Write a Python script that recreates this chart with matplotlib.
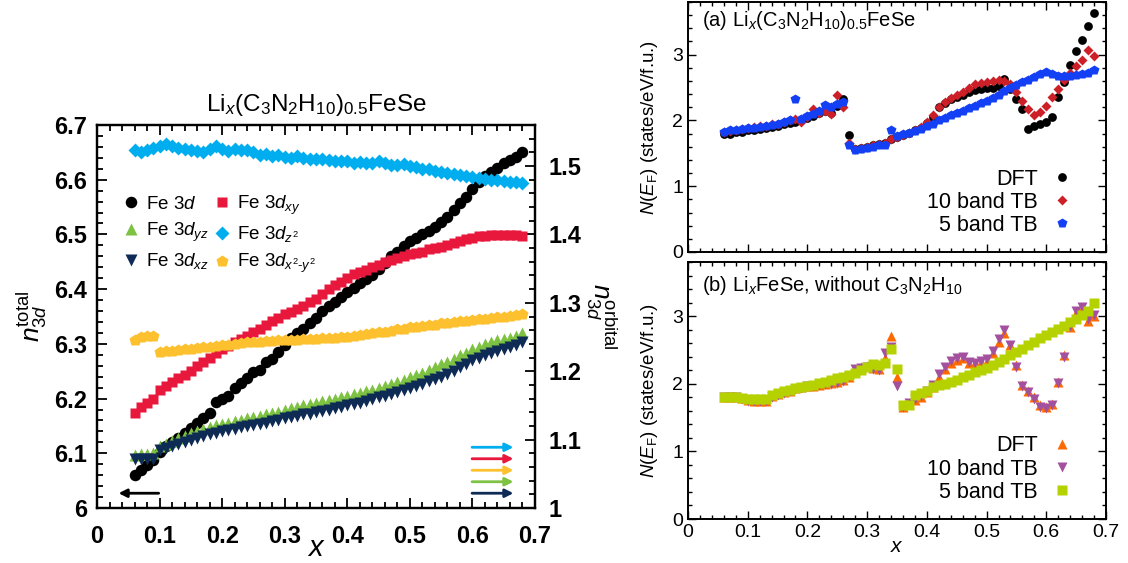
import numpy as np
import matplotlib
matplotlib.use("Agg")
import matplotlib.pyplot as plt
from matplotlib.ticker import MultipleLocator, FuncFormatter

plt.rcParams['font.family'] = ['Liberation Sans', 'DejaVu Sans']
plt.rcParams['mathtext.fontset'] = 'custom'
plt.rcParams['mathtext.rm'] = 'Liberation Sans'
plt.rcParams['mathtext.it'] = 'Liberation Sans:italic'
plt.rcParams['mathtext.bf'] = 'Liberation Sans:bold'

# ---------------- data ----------------
x = [0.06, 0.07, 0.08, 0.09, 0.10, 0.11, 0.12, 0.13, 0.14, 0.15,
     0.16, 0.17, 0.18, 0.19, 0.20, 0.21, 0.22, 0.23, 0.24, 0.25,
     0.26, 0.27, 0.28, 0.29, 0.30, 0.31, 0.32, 0.33, 0.34, 0.35,
     0.36, 0.37, 0.38, 0.39, 0.40, 0.41, 0.42, 0.43, 0.44, 0.45,
     0.46, 0.47, 0.48, 0.49, 0.50, 0.51, 0.52, 0.53, 0.54, 0.55,
     0.56, 0.57, 0.58, 0.59, 0.60, 0.61, 0.62, 0.63, 0.64, 0.65,
     0.66, 0.67, 0.68]

n3d_total = [6.060, 6.069, 6.078, 6.088, 6.102, 6.113, 6.121, 6.128, 6.137, 6.147,
             6.155, 6.164, 6.174, 6.193, 6.199, 6.205, 6.219, 6.228, 6.237, 6.249,
             6.252, 6.267, 6.272, 6.286, 6.298, 6.310, 6.319, 6.327, 6.338, 6.347,
             6.360, 6.370, 6.377, 6.386, 6.395, 6.403, 6.411, 6.418, 6.426, 6.437,
             6.448, 6.460, 6.468, 6.479, 6.488, 6.494, 6.500, 6.506, 6.514, 6.523,
             6.532, 6.545, 6.558, 6.569, 6.583, 6.596, 6.607, 6.614, 6.622, 6.630,
             6.636, 6.641, 6.650]

n_xy = [1.139, 1.147, 1.153, 1.160, 1.172, 1.178, 1.184, 1.190, 1.195, 1.200,
        1.207, 1.213, 1.220, 1.227, 1.232, 1.237, 1.242, 1.247, 1.252, 1.257,
        1.262, 1.267, 1.273, 1.278, 1.283, 1.287, 1.291, 1.296, 1.301, 1.306,
        1.313, 1.320, 1.326, 1.331, 1.337, 1.342, 1.345, 1.348, 1.353, 1.356,
        1.360, 1.363, 1.366, 1.368, 1.371, 1.373, 1.375, 1.378, 1.380, 1.382,
        1.385, 1.387, 1.390, 1.393, 1.395, 1.397, 1.398, 1.399, 1.399, 1.399,
        1.399, 1.399, 1.398]

n_z2 = [1.524, 1.521, 1.524, 1.527, 1.530, 1.532, 1.529, 1.527, 1.525, 1.523,
        1.522, 1.520, 1.525, 1.530, 1.525, 1.522, 1.525, 1.523, 1.524, 1.521,
        1.516, 1.517, 1.515, 1.516, 1.513, 1.512, 1.514, 1.512, 1.511, 1.510,
        1.511, 1.509, 1.507, 1.508, 1.507, 1.505, 1.506, 1.504, 1.504, 1.508,
        1.504, 1.502, 1.501, 1.503, 1.500, 1.498, 1.496, 1.495, 1.493, 1.491,
        1.490, 1.488, 1.487, 1.485, 1.484, 1.483, 1.481, 1.480, 1.479, 1.478,
        1.477, 1.476, 1.475]

n_x2y2 = [1.246, 1.250, 1.251, 1.251, 1.228, 1.229, 1.230, 1.231, 1.232, 1.233,
          1.234, 1.235, 1.236, 1.237, 1.238, 1.239, 1.240, 1.241, 1.242, 1.242,
          1.243, 1.244, 1.244, 1.245, 1.245, 1.246, 1.246, 1.247, 1.247, 1.247,
          1.248, 1.248, 1.249, 1.250, 1.250, 1.252, 1.253, 1.254, 1.256, 1.257,
          1.258, 1.259, 1.261, 1.262, 1.264, 1.265, 1.266, 1.267, 1.268, 1.270,
          1.271, 1.272, 1.273, 1.274, 1.275, 1.276, 1.277, 1.278, 1.279, 1.280,
          1.281, 1.282, 1.283]

n_yz = [1.078, 1.079, 1.079, 1.080, 1.090, 1.094, 1.098, 1.102, 1.106, 1.110,
        1.113, 1.116, 1.119, 1.121, 1.123, 1.125, 1.127, 1.129, 1.131, 1.133,
        1.135, 1.137, 1.139, 1.141, 1.144, 1.146, 1.148, 1.150, 1.152, 1.154,
        1.156, 1.158, 1.160, 1.162, 1.164, 1.166, 1.168, 1.171, 1.173, 1.176,
        1.178, 1.181, 1.184, 1.187, 1.191, 1.195, 1.198, 1.202, 1.206, 1.210,
        1.214, 1.218, 1.223, 1.227, 1.232, 1.236, 1.240, 1.243, 1.245, 1.247,
        1.249, 1.252, 1.256]

n_xz = [1.071, 1.071, 1.072, 1.072, 1.085, 1.088, 1.091, 1.094, 1.097, 1.100,
        1.103, 1.106, 1.108, 1.110, 1.112, 1.114, 1.116, 1.118, 1.120, 1.122,
        1.123, 1.125, 1.127, 1.129, 1.131, 1.133, 1.135, 1.137, 1.138, 1.140,
        1.142, 1.144, 1.146, 1.148, 1.150, 1.152, 1.154, 1.157, 1.159, 1.162,
        1.164, 1.167, 1.170, 1.173, 1.176, 1.179, 1.182, 1.185, 1.188, 1.192,
        1.196, 1.201, 1.206, 1.211, 1.216, 1.220, 1.224, 1.227, 1.230, 1.233,
        1.236, 1.239, 1.242]

# panel (a): Li_x(C3N2H10)0.5FeSe
dft_a = [1.79, 1.80, 1.82, 1.83, 1.85, 1.86, 1.87, 1.89, 1.90, 1.92,
         1.94, 1.96, 1.98, 2.00, 2.03, 2.07, 2.12, 2.15, 2.12, 2.22,
         2.33, 1.78, 1.57, 1.58, 1.60, 1.62, 1.64, 1.66, 1.72, 1.75,
         1.78, 1.81, 1.85, 1.89, 1.96, 2.05, 2.20, 2.27, 2.32, 2.36,
         2.39, 2.43, 2.46, 2.48, 2.49, 2.50, 2.53, 2.63, 2.48, 2.33,
         2.18, 1.87, 1.91, 1.94, 1.98, 2.05, 2.35, 2.59, 2.85, 3.06,
         3.23, 3.43, 3.63]
tb10_a = [1.82, 1.84, 1.86, 1.87, 1.88, 1.90, 1.91, 1.92, 1.94, 1.95,
          1.97, 2.00, 2.02, 1.97, 2.05, 2.18, 2.12, 2.15, 2.10, 2.38,
          2.20, 1.65, 1.56, 1.58, 1.60, 1.62, 1.64, 1.66, 1.72, 1.75,
          1.78, 1.81, 1.85, 1.90, 1.97, 2.08, 2.20, 2.28, 2.34, 2.39,
          2.43, 2.50, 2.55, 2.57, 2.59, 2.60, 2.62, 2.60, 2.55, 2.43,
          2.30, 2.18, 2.08, 2.13, 2.22, 2.35, 2.47, 2.62, 2.72, 2.82,
          2.92, 3.07, 2.98]
tb5_a = [1.83, 1.85, 1.86, 1.87, 1.88, 1.89, 1.90, 1.92, 1.93, 1.95,
         1.97, 2.00, 2.33, 2.02, 2.06, 2.10, 2.15, 2.23, 2.20, 2.25,
         2.28, 1.63, 1.55, 1.57, 1.58, 1.60, 1.62, 1.63, 1.86, 1.76,
         1.79, 1.81, 1.84, 1.87, 1.91, 1.95, 2.00, 2.04, 2.08, 2.12,
         2.15, 2.19, 2.22, 2.26, 2.30, 2.34, 2.39, 2.44, 2.49, 2.54,
         2.58, 2.62, 2.66, 2.70, 2.74, 2.71, 2.68, 2.67, 2.68, 2.69,
         2.70, 2.72, 2.76]

# panel (b): Li_xFeSe without C3N2H10
dft_b = [1.80, 1.80, 1.80, 1.79, 1.76, 1.75, 1.75, 1.75, 1.82, 1.85,
         1.88, 1.90, 1.93, 1.95, 1.96, 1.97, 1.98, 2.00, 2.01, 2.02,
         2.05, 2.10, 2.20, 2.25, 2.26, 2.24, 2.22, 2.38, 2.71, 2.10,
         1.66, 1.70, 1.76, 1.80, 1.88, 1.95, 2.10, 2.22, 2.30, 2.35,
         2.38, 2.31, 2.30, 2.32, 2.33, 2.45, 2.62, 2.75, 2.57, 2.27,
         1.98, 1.90, 1.80, 1.68, 1.66, 1.70, 2.03, 2.42, 2.84, 3.05,
         3.10, 2.93, 3.00]
tb10_b = [1.80, 1.80, 1.80, 1.78, 1.75, 1.74, 1.74, 1.75, 1.81, 1.84,
          1.87, 1.90, 1.92, 1.94, 1.96, 1.97, 1.98, 1.99, 2.00, 2.01,
          2.04, 2.12, 2.22, 2.24, 2.25, 2.22, 2.20, 2.45, 2.55, 1.97,
          1.66, 1.71, 1.77, 1.82, 1.90, 1.98, 2.14, 2.25, 2.33, 2.38,
          2.40, 2.32, 2.31, 2.33, 2.36, 2.48, 2.66, 2.79, 2.58, 2.25,
          1.96, 1.88, 1.78, 1.66, 1.64, 1.69, 2.01, 2.40, 2.86, 3.07,
          3.13, 2.96, 3.02]
tb5_b = [1.80, 1.80, 1.80, 1.79, 1.78, 1.77, 1.77, 1.77, 1.83, 1.86,
         1.89, 1.91, 1.93, 1.95, 1.97, 1.98, 2.01, 2.03, 2.05, 2.08,
         2.10, 2.13, 2.16, 2.20, 2.25, 2.29, 2.28, 2.30, 2.52, 2.22,
         1.68, 1.69, 1.83, 1.86, 1.90, 1.95, 1.98, 2.00, 2.03, 2.06,
         2.10, 2.13, 2.17, 2.20, 2.24, 2.28, 2.32, 2.37, 2.42, 2.47,
         2.52, 2.57, 2.62, 2.67, 2.72, 2.76, 2.81, 2.86, 2.91, 2.96,
         3.01, 3.08, 3.19]

# ---------------- style ----------------
C_BLACK = '#000000'
C_XY = '#e8173c'
C_YZ = '#7dc242'
C_Z2 = '#00aeef'
C_XZ = '#0d2b55'
C_X2Y2 = '#fdc02f'

fig = plt.figure(figsize=(11.28, 5.63), dpi=100)
W, H = 1128.0, 563.0


def rect(l, t, r, b):
    return [l / W, 1 - b / H, (r - l) / W, (b - t) / H]


fmt = FuncFormatter(lambda v, p: '%g' % round(v, 3))

# ---------------- left panel ----------------
ax = fig.add_axes(rect(97, 125, 535, 508))
ax2 = ax.twinx()
ax.set_xlim(0, 0.7)
ax.set_ylim(6.0, 6.7)
ax2.set_ylim(1.0, 1.56)

ms = 8.3
h_tot, = ax.plot(x, n3d_total, 'o', color=C_BLACK, ms=ms, mec='none', label='Fe 3$d$')
h_z2, = ax2.plot(x, n_z2, 'D', color=C_Z2, ms=ms * 0.8, mec='none', label='Fe 3$d_{z^2}$')
h_xy, = ax2.plot(x, n_xy, 's', color=C_XY, ms=ms * 0.95, mec='none', label='Fe 3$d_{xy}$')
h_yz, = ax2.plot(x, n_yz, '^', color=C_YZ, ms=ms, mec='none', label='Fe 3$d_{yz}$')
h_xz, = ax2.plot(x, n_xz, 'v', color=C_XZ, ms=ms, mec='none', label='Fe 3$d_{xz}$')
h_x2, = ax2.plot(x, n_x2y2, 'p', color=C_X2Y2, ms=ms * 1.05, mec='none',
                 label='Fe 3$d_{x^2\\text{-}y^2}$')

for a in (ax, ax2):
    for s in a.spines.values():
        s.set_linewidth(1.6)

ax.xaxis.set_major_locator(MultipleLocator(0.1))
ax.xaxis.set_minor_locator(MultipleLocator(0.02))
ax.yaxis.set_major_locator(MultipleLocator(0.1))
ax.yaxis.set_minor_locator(MultipleLocator(0.02))
ax2.yaxis.set_major_locator(MultipleLocator(0.1))
ax2.yaxis.set_minor_locator(MultipleLocator(0.02))
ax.xaxis.set_major_formatter(fmt)
ax.yaxis.set_major_formatter(fmt)
ax2.yaxis.set_major_formatter(fmt)
ax.tick_params(which='both', direction='in', top=True, right=False, labelsize=17, width=1.3)
ax.tick_params(which='major', length=7)
ax.tick_params(which='minor', length=4)
ax.tick_params(axis='x', pad=12)
ax.tick_params(axis='y', pad=7)
ax2.tick_params(which='both', direction='in', labelsize=17, width=1.3, pad=10)
ax2.tick_params(which='major', length=7)
ax2.tick_params(which='minor', length=4)
fig.canvas.draw()
for lbl in ax.get_xticklabels() + ax.get_yticklabels() + ax2.get_yticklabels():
    lbl.set_fontweight('bold')

ax.set_title('Li$_x$(C$_3$N$_2$H$_{10}$)$_{0.5}$FeSe', fontsize=17.5, pad=10)
ax.set_xlabel('$x$', fontsize=21, labelpad=-10)
ax.set_ylabel('$n_{3d}^{\\mathrm{total}}$', fontsize=19, labelpad=4)
ax2.set_ylabel('$n_{3d}^{\\mathrm{orbital}}$', fontsize=19, rotation=-90, labelpad=26)

leg = ax2.legend([h_tot, h_yz, h_xz, h_xy, h_z2, h_x2],
                 [h.get_label() for h in [h_tot, h_yz, h_xz, h_xy, h_z2, h_x2]],
                 ncol=2, loc='upper left', bbox_to_anchor=(0.04, 0.84), frameon=False,
                 fontsize=13.5, handlelength=1.0, handletextpad=0.3,
                 columnspacing=0.2, labelspacing=0.4, borderaxespad=0)

# arrows indicating which axis each series refers to
ax.annotate('', xy=(0.03, 6.027), xytext=(0.103, 6.027),
            arrowprops=dict(arrowstyle='-|>', color='black', lw=2, mutation_scale=12))
for yy, cc in zip([6.111, 6.090, 6.069, 6.048, 6.027], [C_Z2, C_XY, C_X2Y2, C_YZ, C_XZ]):
    ax.annotate('', xy=(0.67, yy), xytext=(0.595, yy),
                arrowprops=dict(arrowstyle='-|>', color=cc, lw=2, mutation_scale=12))

# ---------------- right panels ----------------
axa = fig.add_axes(rect(688, 2, 1106, 252))
axb = fig.add_axes(rect(688, 262, 1106, 519))

axa.plot(x, dft_a, 'o', color='black', ms=6.3, mec='none', label='DFT')
axa.plot(x, tb10_a, 'D', color='#cc1f27', ms=5.5, mec='none', label='10 band TB')
axa.plot(x, tb5_a, 'p', color='#1440f5', ms=7.0, mec='none', label='5 band TB')

axb.plot(x, dft_b, '^', color='#ff6a00', ms=7.3, mec='none', label='DFT')
axb.plot(x, tb10_b, 'v', color='#a3519e', ms=7.3, mec='none', label='10 band TB')
axb.plot(x, tb5_b, 's', color='#b5d200', ms=6.5, mec='none', label='5 band TB')

for a in (axa, axb):
    a.set_xlim(0, 0.7)
    a.set_ylim(0, 3.8)
    a.xaxis.set_major_locator(MultipleLocator(0.1))
    a.xaxis.set_minor_locator(MultipleLocator(0.02))
    a.yaxis.set_major_locator(MultipleLocator(1))
    a.yaxis.set_minor_locator(MultipleLocator(0.2))
    a.xaxis.set_major_formatter(fmt)
    a.yaxis.set_major_formatter(fmt)
    a.tick_params(which='both', direction='in', top=True, right=True, labelsize=14, width=1.0)
    a.tick_params(which='major', length=6)
    a.tick_params(which='minor', length=3)
    for s in a.spines.values():
        s.set_linewidth(1.4)
    a.set_ylabel('$N(E_\\mathrm{F})$ (states/eV/f.u.)', fontsize=13.5, labelpad=9)
    a.legend(loc='lower right', bbox_to_anchor=(0.94, 0.03), frameon=False, markerfirst=False,
             fontsize=15.5, handlelength=1.0, handletextpad=0.6, labelspacing=0.1,
             borderaxespad=0)

axa.tick_params(labelbottom=False)
axb.set_xlabel('$x$', fontsize=15, labelpad=-3)

axa.text(0.033, 0.925, '(a) Li$_x$(C$_3$N$_2$H$_{10}$)$_{0.5}$FeSe', transform=axa.transAxes,
         fontsize=14.5, va='center', ha='left')
axb.text(0.033, 0.91, '(b) Li$_x$FeSe, without C$_3$N$_2$H$_{10}$', transform=axb.transAxes,
         fontsize=14.5, va='center', ha='left')

fig.savefig('out.png', dpi=100)
